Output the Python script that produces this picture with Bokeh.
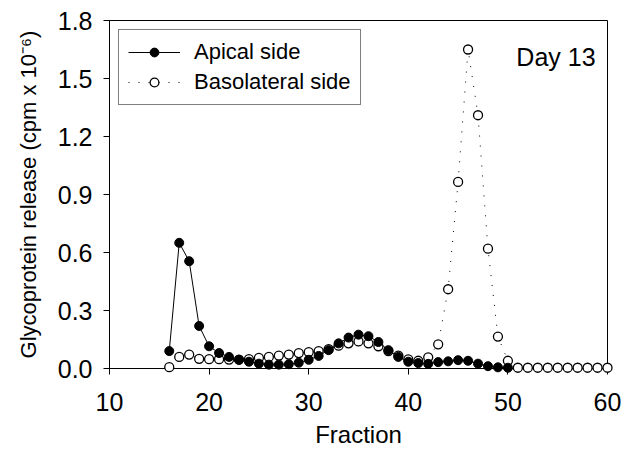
from bokeh.plotting import figure
from bokeh.models import Range1d, Label, FixedTicker, Legend, LegendItem, NumeralTickFormatter
from bokeh.embed import file_html
from bokeh.resources import INLINE

# ---- data ----
apical_fraction = list(range(16, 51))
apical_release = [0.09, 0.65, 0.555, 0.22, 0.115, 0.08, 0.06, 0.045, 0.035, 0.025,
                  0.02, 0.02, 0.022, 0.03, 0.045, 0.065, 0.095, 0.13, 0.16, 0.175,
                  0.167, 0.137, 0.095, 0.06, 0.035, 0.028, 0.024, 0.033, 0.037, 0.043,
                  0.04, 0.025, 0.012, 0.006, 0.004]

baso_fraction = list(range(16, 61))
baso_release = [0.007, 0.06, 0.072, 0.05, 0.048, 0.048, 0.046, 0.046, 0.048, 0.055,
                0.06, 0.067, 0.072, 0.08, 0.085, 0.09, 0.1, 0.118, 0.13, 0.14,
                0.13, 0.115, 0.09, 0.067, 0.047, 0.04, 0.058, 0.125, 0.41, 0.965,
                1.65, 1.31, 0.62, 0.165, 0.04, 0.004, 0.004, 0.004, 0.004, 0.004,
                0.004, 0.004, 0.004, 0.004, 0.004]

x_ticks = [10, 20, 30, 40, 50, 60]
y_ticks = [0.0, 0.3, 0.6, 0.9, 1.2, 1.5, 1.8]

FONT = "Liberation Sans"

p = figure(output_backend="svg", toolbar_location=None,
           frame_width=498, frame_height=348,
           x_range=Range1d(10, 60), y_range=Range1d(0, 1.8),
           min_border_left=109, min_border_right=15,
           min_border_top=20, min_border_bottom=80)
p.background_fill_color = "white"
p.border_fill_color = "white"
p.outline_line_color = "black"
p.outline_line_width = 1
p.xgrid.visible = False
p.ygrid.visible = False

r_al = p.line(apical_fraction, apical_release, line_color="black", line_width=1)
r_bl = p.line(baso_fraction, baso_release, line_color="black", line_width=1,
              line_dash="1 9")
r_bs = p.scatter(baso_fraction, baso_release, marker="circle", size=9,
                 fill_color="white", line_color="black", line_width=1.3)
r_as = p.scatter(apical_fraction, apical_release, marker="circle", size=9,
                 fill_color="black", line_color="black", line_width=1)
for r in (r_bs, r_as):
    r.level = "overlay"

for ax in (p.xaxis[0], p.yaxis[0]):
    ax.axis_line_color = "black"
    ax.major_tick_line_color = "black"
    ax.minor_tick_line_color = None
    ax.major_tick_in = 0
    ax.major_tick_out = 6
    ax.major_label_text_font = FONT
    ax.major_label_text_font_size = "25px"
    ax.major_label_text_color = "black"
    ax.axis_label_text_font = FONT
    ax.axis_label_text_font_style = "normal"
    ax.axis_label_text_color = "black"
    ax.axis_label_text_font_size = "24px"

p.xaxis.ticker = FixedTicker(ticks=x_ticks)
p.yaxis.ticker = FixedTicker(ticks=y_ticks)
p.yaxis.formatter = NumeralTickFormatter(format="0.0")
p.xaxis.major_label_standoff = 18
p.yaxis.major_label_standoff = 11
p.xaxis.axis_label = "Fraction"
p.yaxis.axis_label = "Glycoprotein release (cpm x 10\u207b\u2076)"
p.xaxis.axis_label_standoff = 7
p.yaxis.axis_label_standoff = 14
p.yaxis.axis_label_text_font_size = "22px"

legend = Legend(items=[
    LegendItem(label="Apical side", renderers=[r_al, r_as]),
    LegendItem(label="Basolateral side", renderers=[r_bl, r_bs]),
], location="top_left")
legend.margin = 9
legend.padding = 9
legend.spacing = 4
legend.glyph_width = 52
legend.glyph_height = 22
legend.label_standoff = 14
legend.label_text_font = FONT
legend.label_text_font_size = "22px"
legend.label_text_color = "black"
legend.border_line_color = "black"
legend.border_line_width = 1
legend.background_fill_color = "white"
legend.background_fill_alpha = 1
p.add_layout(legend)

p.add_layout(Label(x=58.8, y=1.609, text="Day 13", text_align="right",
                   text_baseline="alphabetic", text_font=FONT,
                   text_font_size="25px", text_color="black"))

open("out.html", "w").write(file_html(p, INLINE))
